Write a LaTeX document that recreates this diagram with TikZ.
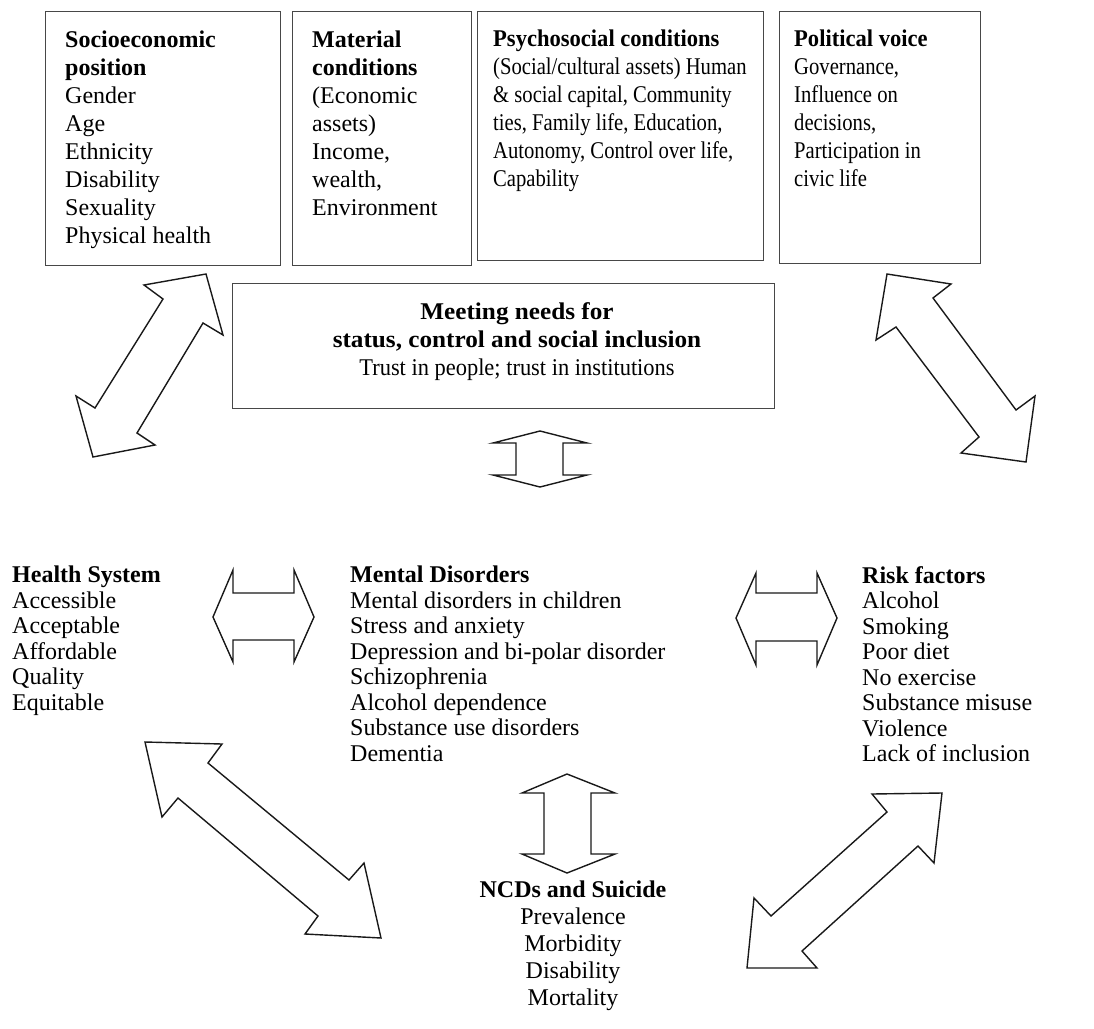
\documentclass[tikz,border=0pt]{standalone}
\usepackage{fontspec}
\setmainfont{Liberation Serif}
\newfontfamily\condA[FakeStretch=0.86]{Liberation Serif}
\newfontfamily\condB[FakeStretch=0.94]{Liberation Serif}
\newfontfamily\condC[FakeStretch=0.935]{Liberation Serif}
\newfontfamily\wideB[FakeStretch=1.05]{Liberation Serif}
\begin{document}
\begin{tikzpicture}[x=1pt,y=-1pt,
  box/.style={draw=black!72, line width=1.4pt, inner sep=0pt, anchor=north west},
  txt/.style={font=\fontsize{24}{28}\selectfont, align=left, inner sep=0pt, anchor=north west},
  ctxt/.style={font=\fontsize{24}{28}\selectfont, align=center, inner sep=0pt, anchor=north},
  mtxt/.style={font=\fontsize{24}{25.5}\selectfont, align=left, inner sep=0pt, anchor=north west},
  barrow/.style={draw=black!90, line width=1.4pt, fill=white, line join=miter}]
\useasboundingbox (0,0) rectangle (1094,1028);
% top boxes
\node[box, minimum width=235pt, minimum height=254pt] (b1) at (45,11) {};
\node[box, minimum width=179pt, minimum height=254pt] (b2) at (292,11) {};
\node[box, minimum width=286pt, minimum height=249pt] (b3) at (477,11) {};
\node[box, minimum width=201pt, minimum height=252pt] (b4) at (779,11) {};
\node[txt] (t1) at (65,31) {\textbf{Socioeconomic}\\\textbf{position}\\Gender\\Age\\Ethnicity\\Disability\\Sexuality\\Physical health};
\node[txt] (t2) at (312,31) {\textbf{Material}\\\textbf{conditions}\\(Economic\\assets)\\Income,\\wealth,\\Environment};
\node[txt] (t3) at (493,30) {{\condB\bfseries Psychosocial conditions}\\{\condA (Social/cultural assets) Human}\\{\condA \& social capital, Community}\\{\condA ties, Family life, Education,}\\{\condA Autonomy, Control over life,}\\{\condA Capability}};
\node[txt] (t4) at (794,30) {{\condB\bfseries Political voice}\\{\condA Governance,}\\{\condA Influence on}\\{\condA decisions,}\\{\condA Participation in}\\{\condA civic life}};
% meeting box
\node[box, minimum width=542pt, minimum height=125pt] (mb) at (232,283) {};
\node[ctxt] (mt) at (517,302) {{\wideB\bfseries Meeting needs for}\\{\wideB\bfseries status, control and social inclusion}\\{\condC Trust in people; trust in institutions}};
% middle blocks
\node[mtxt] (hs) at (12,566) {\textbf{Health System}\\Accessible\\Acceptable\\Affordable\\Quality\\Equitable};
\node[mtxt] (md) at (350,566) {\textbf{Mental Disorders}\\Mental disorders in children\\Stress and anxiety\\Depression and bi-polar disorder\\Schizophrenia\\Alcohol dependence\\Substance use disorders\\Dementia};
\node[mtxt] (rf) at (862,566) {\textbf{Risk factors}\\Alcohol\\Smoking\\Poor diet\\No exercise\\Substance misuse\\Violence\\Lack of inclusion};
\node[ctxt, font=\fontsize{24}{27}\selectfont] (ncd) at (573,881) {\textbf{NCDs and Suicide}\\Prevalence\\Morbidity\\Disability\\Mortality};
% block arrows
\draw[barrow] (540,431) -- (587,443) -- (563,443) -- (563,475) -- (587,475) -- (540,487) -- (493,475) -- (516,475) -- (516,443) -- (493,443) -- cycle;
\draw[barrow] (213,617) -- (233,570) -- (233,593) -- (294,593) -- (294,570) -- (314,617) -- (294,662) -- (294,640) -- (233,640) -- (233,662) -- cycle;
\draw[barrow] (736,618) -- (756,573) -- (756,593) -- (817,593) -- (817,573) -- (837,618) -- (817,665) -- (817,641) -- (756,641) -- (756,665) -- cycle;
\draw[barrow] (567,774) -- (615,793) -- (591,793) -- (591,854) -- (615,854) -- (567,873) -- (522,854) -- (544,854) -- (544,793) -- (522,793) -- cycle;
\draw[barrow] (206,274) -- (223,335) -- (203,323) -- (137,433) -- (155,445) -- (93,457) -- (76,396) -- (95,408) -- (163,299) -- (144,285) -- cycle;
\draw[barrow] (887,274) -- (951,284) -- (933,298) -- (1016,410) -- (1035,396) -- (1026,462) -- (961,453) -- (979,437) -- (896,327) -- (876,340) -- cycle;
\draw[barrow] (145,742) -- (222,744) -- (208,763) -- (349,880) -- (364,863) -- (381,938) -- (305,934) -- (318,916) -- (178,798) -- (162,817) -- cycle;
\draw[barrow] (942,793) -- (934,863) -- (918,846) -- (802,951) -- (817,968) -- (747,968) -- (754,898) -- (771,916) -- (887,812) -- (872,794) -- cycle;
\end{tikzpicture}
\end{document}
